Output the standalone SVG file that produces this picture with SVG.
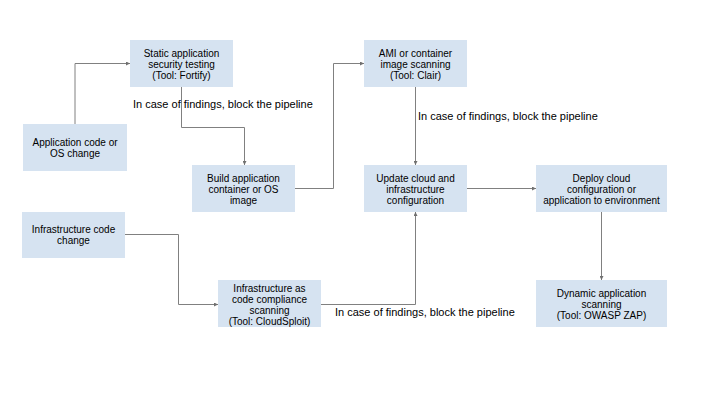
<svg xmlns="http://www.w3.org/2000/svg" width="720" height="405" viewBox="0 0 720 405">
<defs>
<style>
.box{fill:#d6e3f1;}
.t{font-family:"Liberation Sans",Arial,sans-serif;font-size:10px;fill:#000;text-anchor:middle;}
.lbl{font-family:"Liberation Sans",Arial,sans-serif;font-size:11px;fill:#000;}
.c{fill:none;stroke:#808080;stroke-width:1;}
</style>
<marker id="ah" viewBox="0 0 6 6" refX="6" refY="3" markerWidth="4" markerHeight="4" orient="auto" markerUnits="userSpaceOnUse">
<path d="M0,0 L6,3 L0,6 z" fill="#707070"/>
</marker>
</defs>
<rect width="720" height="405" fill="#fff"/>
<g id="connectors">
<path class="c" d="M75,124 V63.5 H130" marker-end="url(#ah)"/>
<path class="c" d="M181.5,87 V127.5 H244.5 V165" marker-end="url(#ah)"/>
<path class="c" d="M295,188.5 H333.5 V63.5 H364" marker-end="url(#ah)"/>
<path class="c" d="M415.5,87 V165" marker-end="url(#ah)"/>
<path class="c" d="M467,188.5 H536" marker-end="url(#ah)"/>
<path class="c" d="M125,234.5 H178.5 V304.5 H218" marker-end="url(#ah)"/>
<path class="c" d="M321,304.5 H415.5 V212" marker-end="url(#ah)"/>
<path class="c" d="M601.5,212 V280" marker-end="url(#ah)"/>
</g>
<g id="labels">
<text class="lbl" x="133" y="107.5">In case of findings, block the pipeline</text>
<text class="lbl" x="418" y="120">In case of findings, block the pipeline</text>
<text class="lbl" x="335" y="315.5">In case of findings, block the pipeline</text>
</g>
<g id="static">
<rect class="box" x="130" y="40" width="103" height="47"/>
<text class="t" x="181.5" y="56.5">Static application</text>
<text class="t" x="181.5" y="67.5">security testing</text>
<text class="t" x="181.5" y="78.5">(Tool: Fortify)</text>
</g>
<g id="appcode">
<rect class="box" x="23" y="124" width="104" height="47"/>
<text class="t" x="75" y="145.5">Application code or</text>
<text class="t" x="75" y="156.5">OS change</text>
</g>
<g id="build">
<rect class="box" x="192" y="165" width="103" height="47"/>
<text class="t" x="243.5" y="181.5">Build application</text>
<text class="t" x="243.5" y="192.5">container or OS</text>
<text class="t" x="243.5" y="203.5">image</text>
</g>
<g id="ami">
<rect class="box" x="364" y="40" width="103" height="47"/>
<text class="t" x="415.5" y="56.5">AMI or container</text>
<text class="t" x="415.5" y="67.5">image scanning</text>
<text class="t" x="415.5" y="78.5">(Tool: Clair)</text>
</g>
<g id="update">
<rect class="box" x="364" y="165" width="103" height="47"/>
<text class="t" x="415.5" y="181.5">Update cloud and</text>
<text class="t" x="415.5" y="192.5">infrastructure</text>
<text class="t" x="415.5" y="203.5">configuration</text>
</g>
<g id="deploy">
<rect class="box" x="536" y="165" width="131" height="47"/>
<text class="t" x="601.5" y="181.5">Deploy cloud</text>
<text class="t" x="601.5" y="192.5">configuration or</text>
<text class="t" x="601.5" y="203.5">application to environment</text>
</g>
<g id="infracode">
<rect class="box" x="22" y="212" width="103" height="46"/>
<text class="t" x="73.5" y="232.5">Infrastructure code</text>
<text class="t" x="73.5" y="243.5">change</text>
</g>
<g id="iac">
<rect class="box" x="218" y="280" width="103" height="47"/>
<text class="t" x="269.5" y="291.5">Infrastructure as</text>
<text class="t" x="269.5" y="302.5">code compliance</text>
<text class="t" x="269.5" y="313.5">scanning</text>
<text class="t" x="269.5" y="324.5">(Tool: CloudSploit)</text>
</g>
<g id="dynamic">
<rect class="box" x="536" y="280" width="131" height="47"/>
<text class="t" x="601.5" y="296.5">Dynamic application</text>
<text class="t" x="601.5" y="307.5">scanning</text>
<text class="t" x="601.5" y="318.5">(Tool: OWASP ZAP)</text>
</g>
</svg>
